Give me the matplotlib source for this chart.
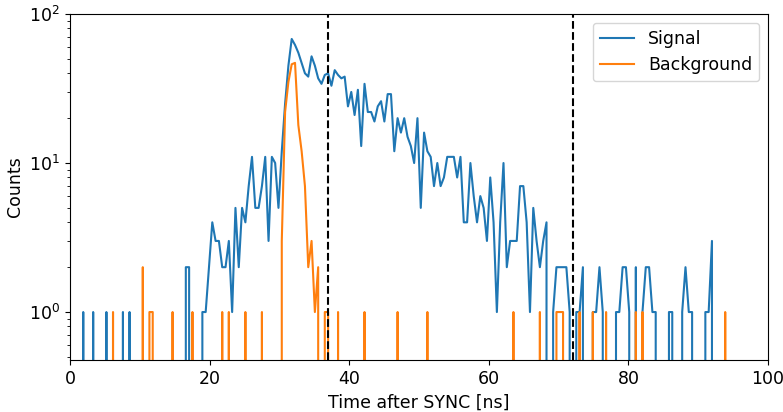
import numpy as np
import matplotlib.pyplot as plt

# histogram bin width in ns (counts per bin)
bin_width = 0.474

signal = [
    0, 0, 0, 0, 1, 0, 0, 1, 0, 0,
    0, 1, 0, 0, 0, 0, 1, 0, 1, 0,
    0, 0, 0, 0, 0, 0, 0, 0, 0, 0,
    0, 0, 0, 0, 0, 2, 2, 0, 0, 0,
    1, 1, 2, 4, 3, 3, 2, 2, 3, 1,
    5, 2, 5, 4, 7, 11, 5, 5, 7, 11,
    3, 11, 10, 5, 12, 25, 45, 68, 62, 55,
    47, 40, 38, 52, 45, 37, 34, 39, 40, 33,
    42, 39, 37, 38, 24, 30, 21, 31, 13, 34,
    22, 22, 19, 24, 26, 19, 29, 29, 12, 20,
    16, 20, 15, 13, 10, 20, 5, 16, 12, 11,
    7, 10, 7, 8, 11, 11, 11, 8, 11, 4,
    4, 10, 6, 4, 6, 5, 3, 8, 4, 1,
    4, 10, 2, 3, 3, 3, 7, 7, 4, 1,
    5, 3, 2, 3, 4, 0, 1, 2, 2, 2,
    2, 1, 0, 1, 1, 2, 0, 0, 1, 1,
    2, 1, 0, 0, 0, 1, 1, 2, 2, 1,
    0, 2, 0, 1, 2, 2, 1, 1, 0, 0,
    0, 1, 1, 0, 0, 1, 2, 1, 1, 0,
    0, 0, 1, 1, 3, 0, 0, 0, 0, 0,
    0, 0, 0, 0, 0, 0, 0, 0, 0, 0, 0,
]

background = [
    0, 0, 0, 0, 0, 0, 0, 0, 0, 0,
    0, 0, 0, 1, 0, 0, 0, 0, 0, 0,
    0, 0, 2, 0, 1, 1, 0, 0, 0, 0,
    0, 1, 0, 0, 0, 0, 0, 1, 0, 0,
    0, 0, 0, 0, 0, 0, 1, 0, 1, 0,
    0, 0, 0, 1, 0, 0, 0, 0, 1, 0,
    0, 0, 0, 0, 3, 22, 35, 46, 47, 18,
    12, 7, 2, 3, 1, 2, 0, 1, 1, 0,
    0, 1, 0, 0, 0, 0, 0, 0, 0, 1,
    0, 0, 0, 0, 0, 0, 0, 0, 0, 1,
    0, 0, 0, 0, 0, 0, 0, 0, 1, 0,
    0, 0, 0, 0, 0, 0, 0, 0, 0, 0,
    0, 0, 0, 0, 0, 0, 0, 0, 0, 0,
    0, 0, 0, 0, 1, 0, 0, 0, 0, 0,
    0, 0, 1, 0, 0, 0, 0, 1, 1, 1,
    0, 0, 0, 0, 1, 0, 0, 0, 1, 0,
    0, 0, 1, 0, 0, 0, 0, 0, 0, 0,
    0, 1, 0, 1, 0, 0, 0, 0, 0, 0,
    0, 0, 0, 0, 0, 0, 0, 0, 0, 0,
    0, 0, 0, 0, 0, 0, 0, 0, 1, 0,
    0, 0, 0, 0, 0, 0, 0, 0, 0, 0, 0,
]

window = [37, 72]   # integration window [ns]

t = np.arange(len(signal)) * bin_width

plt.rcParams['font.size'] = 12.5
fig, ax = plt.subplots(figsize=(7.83, 4.12), dpi=100)
fig.subplots_adjust(left=0.0894, right=0.981, top=0.966, bottom=0.126)

ax.plot(t, signal, label='Signal', lw=1.5)
ax.plot(t, background, label='Background', lw=1.5)
for w in window:
    ax.axvline(w, color='k', ls='--', lw=1.5)

ax.set_yscale('log')
ax.set_xlim(0, 100)
ax.set_ylim(0.476, 100)
ax.set_xlabel('Time after SYNC [ns]')
ax.set_ylabel('Counts')
ax.legend(loc='upper right')

fig.savefig('out.png')
